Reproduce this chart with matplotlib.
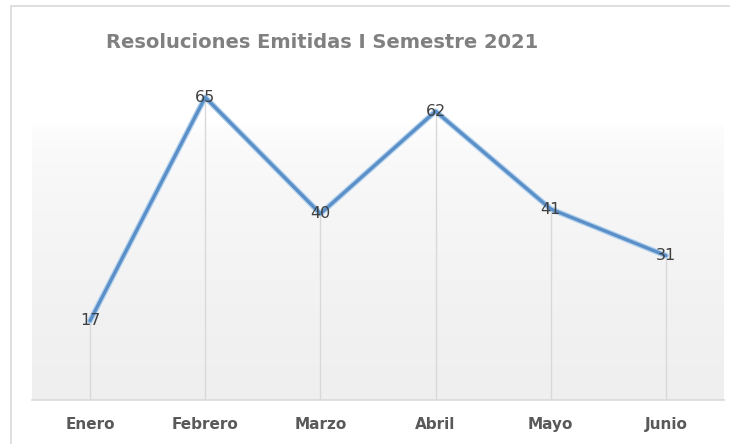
import matplotlib

matplotlib.use("Agg")
import matplotlib.pyplot as plt
import numpy as np
from matplotlib.patches import Rectangle

meses = ["Enero", "Febrero", "Marzo", "Abril", "Mayo", "Junio"]
resoluciones = [17, 65, 40, 62, 41, 31]

W, H = 730, 444
fig = plt.figure(figsize=(W / 100, H / 100), dpi=100)
fig.patch.set_facecolor("white")

# chart border (cut by the image edge on the right and bottom)
fig.patches.append(Rectangle((11 / W, -0.05), 1.1, 1 - 6 / H + 0.05,
                             transform=fig.transFigure, fill=False,
                             ec="#d9d9d9", lw=1.2))

ax = fig.add_axes([32.4 / W, 1 - 400 / H, (723.6 - 32.4) / W, (400 - 74) / H])
x = np.arange(len(meses))
ax.set_xlim(-0.5, len(meses) - 0.5)
ax.set_ylim(0, 70)

# plot-area gradient: white on top, light grey lower down
f = np.linspace(0, 1, 256)
grad = np.clip((0.85 - f) / 0.85, 0, 1)[:, None] ** 0.5
cmap = matplotlib.colors.LinearSegmentedColormap.from_list(
    "bg", ["#ffffff", "#efefef"])
ax.imshow(grad, aspect="auto", cmap=cmap, origin="lower",
          extent=(-0.5, 5.5, 0, 70), zorder=0)

ax.vlines(x, 0, resoluciones, color="#d9d9d9", lw=1.0, zorder=1)
ax.plot(x, resoluciones, color="#b5d3ee", lw=4.2, solid_capstyle="round",
        zorder=2)
ax.plot(x, resoluciones, color="#5b8fc8", lw=2.4, solid_capstyle="round",
        zorder=3)
for xi, v in zip(x, resoluciones):
    ax.text(xi, v, str(v), ha="center", va="center", fontsize=11.5,
            color="#404040", zorder=4)

for s in ["left", "right", "top"]:
    ax.spines[s].set_visible(False)
ax.spines["bottom"].set_color("#d9d9d9")
ax.spines["bottom"].set_linewidth(1.2)
ax.set_yticks([])
ax.set_xticks(x)
ax.set_xticklabels(meses, fontsize=11, color="#595959", weight="bold")
ax.tick_params(axis="x", length=0, pad=12)

fig.text(322 / W, 1 - 42 / H, "Resoluciones Emitidas I Semestre 2021",
         ha="center", va="center", fontsize=14, color="#808080",
         weight="bold")

fig.savefig("out.png", dpi=100)
